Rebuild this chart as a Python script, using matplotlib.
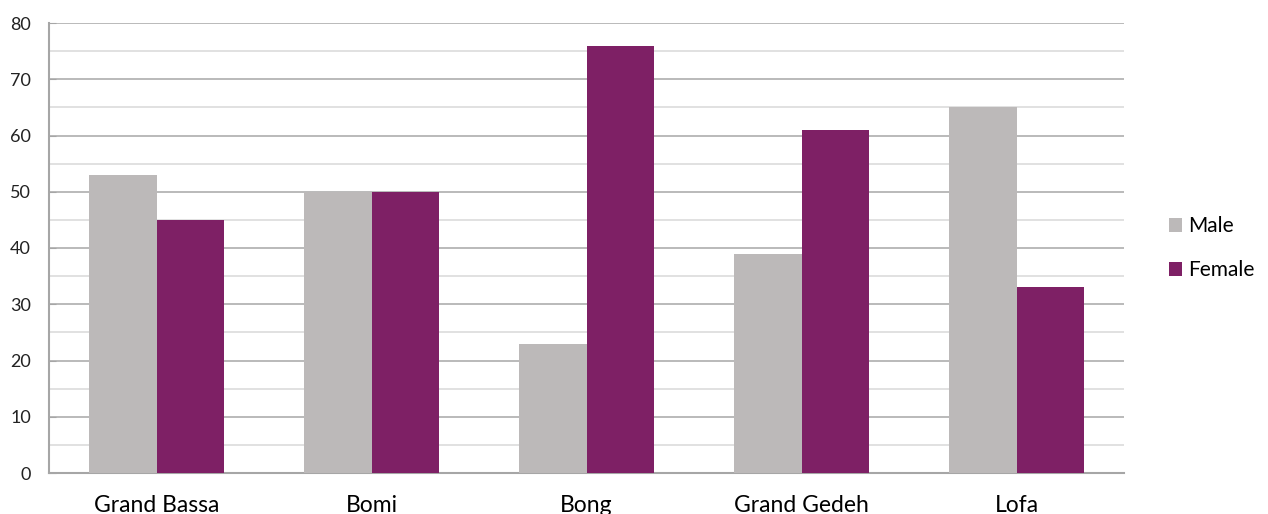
import matplotlib
matplotlib.use("Agg")
import matplotlib.pyplot as plt
import numpy as np
from matplotlib.ticker import MultipleLocator

plt.rcParams['font.family'] = ['Lato', 'DejaVu Sans']

counties = ["Grand Bassa", "Bomi", "Bong", "Grand Gedeh", "Lofa"]
male = [53, 50, 23, 39, 65]
female = [45, 50, 76, 61, 33]
series_labels = ["Male", "Female"]
colors = ["#bcb9b9", "#7e2065"]

fig = plt.figure(figsize=(12.68, 5.14), dpi=100)
ax = fig.add_axes([49 / 1268, 1 - 473 / 514, 1075 / 1268, 450 / 514])

x = np.arange(len(counties))
w = 0.314
ax.bar(x - w / 2, male, width=w, color=colors[0], label=series_labels[0], zorder=3)
ax.bar(x + w / 2, female, width=w, color=colors[1], label=series_labels[1], zorder=3)

ax.set_xlim(-0.5, len(counties) - 0.5)
ax.set_ylim(0, 80)
ax.yaxis.set_major_locator(MultipleLocator(10))
ax.yaxis.set_minor_locator(MultipleLocator(5))
ax.grid(which='major', axis='y', color='#b4b4b4', linewidth=1.3, zorder=0)
ax.grid(which='minor', axis='y', color='#dedede', linewidth=1.3, zorder=0)

for side in ['top', 'right']:
    ax.spines[side].set_visible(False)
for side in ['left', 'bottom']:
    ax.spines[side].set_color('#a6a6a6')
    ax.spines[side].set_linewidth(1.5)

ax.set_xticks(x)
ax.set_xticklabels(counties, fontsize=16.5)
ax.tick_params(axis='x', length=0, pad=16)
ax.tick_params(axis='y', which='major', length=5, direction='in', color='#a6a6a6',
               labelsize=13, pad=13)
ax.tick_params(axis='y', which='minor', length=0)
for lbl in ax.get_yticklabels():
    lbl.set_color('#222222')

leg = ax.legend(loc='center left', bbox_to_anchor=(1.024, 0.5), frameon=False,
                fontsize=15, handlelength=0.65, handleheight=0.65,
                handletextpad=0.3, labelspacing=1.15)

fig.savefig("out.png", dpi=100, facecolor='white')
